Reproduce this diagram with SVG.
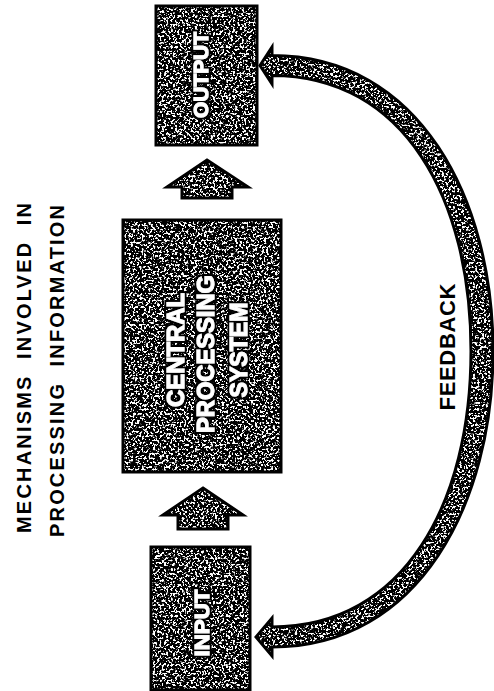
<svg xmlns="http://www.w3.org/2000/svg" width="494" height="691" viewBox="0 0 494 691">
<style>
  .tex { fill: #000; filter: url(#grain); }
  .edge { fill: none; stroke: #000; stroke-width: 3; stroke-linejoin: miter; }
  .lbl { fill: #fff; stroke: #fff; stroke-width: 0.9; filter: url(#halo); font-family: "Liberation Sans", Arial, sans-serif; font-weight: bold; text-anchor: middle; }
  .cap { fill: #000; font-family: "Liberation Sans", Arial, sans-serif; font-weight: bold; text-anchor: middle; white-space: pre; }
</style>
<defs>
  <filter id="grain" x="0%" y="0%" width="100%" height="100%" color-interpolation-filters="sRGB">
    <feTurbulence type="fractalNoise" baseFrequency="0.45" numOctaves="2" seed="7" result="noise"/>
    <feColorMatrix in="noise" type="matrix" values="0 0 0 0 1  0 0 0 0 1  0 0 0 0 1  14 0 0 0 -7.4" result="white"/>
    <feComposite in="white" in2="SourceAlpha" operator="in" result="spots"/>
    <feMerge><feMergeNode in="SourceGraphic"/><feMergeNode in="spots"/></feMerge>
  </filter>
  <filter id="halo" x="-10%" y="-30%" width="120%" height="160%">
    <feMorphology in="SourceAlpha" operator="dilate" radius="1.6" result="d"/>
    <feFlood flood-color="#000"/>
    <feComposite in2="d" operator="in" result="ring"/>
    <feMerge><feMergeNode in="ring"/><feMergeNode in="SourceGraphic"/></feMerge>
  </filter>
  <path id="fbShape" d="M 272 47 L 260 65.5 L 272 84 L 272 75.5 C 405 75.5, 471 200, 471 351 C 471 502, 405 627, 272 627 L 272 618 L 256 637 L 272 656 L 272 647 C 420 647, 493 502, 493 351 C 493 200, 420 55.5, 272 55.5 Z"/>
  <polygon id="upArrow1" points="207,160 248,187 232,187 232,198 182,198 182,187 167,187"/>
  <polygon id="upArrow2" points="203,488 243,515 228,515 228,529 178,529 178,515 163,515"/>
</defs>

<g id="title">
  <text class="cap" font-size="20" textLength="330" lengthAdjust="spacing" transform="translate(31,368) rotate(-90)">MECHANISMS  INVOLVED  IN</text>
  <text class="cap" font-size="20" textLength="332" lengthAdjust="spacing" transform="translate(64,371) rotate(-90)">PROCESSING  INFORMATION</text>
</g>

<g id="connectors">
  <g id="arrow-cps-output">
    <use href="#upArrow1" class="tex"/>
    <use href="#upArrow1" class="edge"/>
  </g>
  <g id="arrow-input-cps">
    <use href="#upArrow2" class="tex"/>
    <use href="#upArrow2" class="edge"/>
  </g>
  <g id="feedback">
    <use href="#fbShape" class="tex"/>
    <use href="#fbShape" class="edge"/>
    <text class="cap" font-size="22" textLength="127" lengthAdjust="spacing" transform="translate(455,347) rotate(-90)">FEEDBACK</text>
  </g>
</g>

<g id="output">
  <rect x="156" y="6" width="101" height="139" class="tex"/>
  <rect x="156" y="6" width="101" height="139" class="edge"/>
  <text class="lbl" font-size="20" textLength="86" lengthAdjust="spacingAndGlyphs" transform="translate(208,75) rotate(-90)">OUTPUT</text>
</g>

<g id="cps">
  <rect x="123" y="220" width="158" height="252" class="tex"/>
  <rect x="123" y="220" width="158" height="252" class="edge"/>
  <text class="lbl" font-size="23" textLength="114" lengthAdjust="spacingAndGlyphs" transform="translate(184,350) rotate(-90)">CENTRAL</text>
  <text class="lbl" font-size="23" textLength="158" lengthAdjust="spacingAndGlyphs" transform="translate(214,354) rotate(-90)">PROCESSING</text>
  <text class="lbl" font-size="23" textLength="95" lengthAdjust="spacingAndGlyphs" transform="translate(247,350) rotate(-90)">SYSTEM</text>
</g>

<g id="input">
  <rect x="151" y="547" width="99" height="143" class="tex"/>
  <rect x="151" y="547" width="99" height="143" class="edge"/>
  <text class="lbl" font-size="21" textLength="67" lengthAdjust="spacingAndGlyphs" transform="translate(209,623) rotate(-90)">INPUT</text>
</g>
</svg>
